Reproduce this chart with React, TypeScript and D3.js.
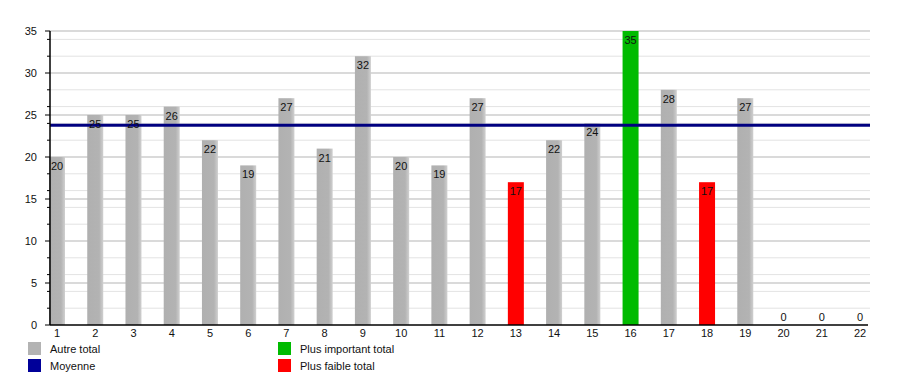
import React from "react";
import * as d3 from "d3";

const categories = ["1","2","3","4","5","6","7","8","9","10","11","12","13","14","15","16","17","18","19","20","21","22"];
const totals = [20,25,25,26,22,19,27,21,32,20,19,27,17,22,24,35,28,17,27,0,0,0];
const majorTicks = [0,5,10,15,20,25,30,35];
const minorTicks = [2,4,6,8,12,14,16,18,22,24,26,28,32,34];
const legendItems = [
  { label: "Autre total", color: "#b3b3b3" },
  { label: "Moyenne", color: "#000099" },
  { label: "Plus important total", color: "#00bb00" },
  { label: "Plus faible total", color: "#ff0000" },
];

const W = 900;
const H = 375;
const left = 50;
const right = 870;
const top = 31;
const bottom = 325;
const barW = 16;

export default function App() {
  const x = d3.scalePoint<string>().domain(categories).range([57, 860]);
  const y = d3.scaleLinear().domain([0, 35]).range([bottom, top]);

  const nonZero = totals.filter((v) => v > 0);
  const avg = d3.mean(nonZero) ?? 0;
  const maxV = d3.max(totals) ?? 0;
  const minV = d3.min(nonZero) ?? 0;

  const colorFor = (v: number) =>
    v === maxV ? legendItems[2].color : v === minV ? legendItems[3].color : legendItems[0].color;

  const font = "'Liberation Sans', Arial, sans-serif";

  return (
    <svg width={W} height={H} style={{ position: "absolute", left: 0, top: 0, fontFamily: font }}>
      <defs>
        <linearGradient id="grayBar" x1="0" x2="1" y1="0" y2="0">
          <stop offset="0" stopColor="#b0b0b0" />
          <stop offset="0.75" stopColor="#b3b3b3" />
          <stop offset="1" stopColor="#d0d0d0" />
        </linearGradient>
      </defs>
      <rect width={W} height={H} fill="#fff" />

      {minorTicks.map((t) => (
        <line key={"mg" + t} x1={left} x2={right} y1={y(t)} y2={y(t)} stroke="#e3e3e3" strokeWidth={1} />
      ))}
      {majorTicks.filter((t) => t > 0).map((t) => (
        <line key={"Mg" + t} x1={left} x2={right} y1={y(t)} y2={y(t)} stroke="#b5b5b5" strokeWidth={1} />
      ))}

      {totals.map((v, i) => {
        const cx = x(categories[i]) ?? 0;
        const c = colorFor(v);
        return (
          <rect
            key={"b" + i}
            x={cx - barW / 2}
            y={y(v)}
            width={barW}
            height={bottom - y(v)}
            fill={c === legendItems[0].color ? "url(#grayBar)" : c}
          />
        );
      })}

      <line x1={left} x2={right} y1={y(avg) + 0.5} y2={y(avg) + 0.5} stroke="#000080" strokeWidth={3} />

      {totals.map((v, i) => {
        const cx = x(categories[i]) ?? 0;
        return (
          <text
            key={"l" + i}
            x={cx}
            y={v > 0 ? y(v) + 13 : y(0) - 4}
            textAnchor="middle"
            fontSize={11}
            fill="#111"
          >
            {v}
          </text>
        );
      })}

      <line x1={left} x2={left} y1={top} y2={bottom} stroke="#000" strokeWidth={1.5} />
      <line x1={left} x2={868} y1={bottom} y2={bottom} stroke="#000" strokeWidth={1.5} />
      {majorTicks.map((t) => (
        <g key={"yt" + t}>
          <line x1={left - 5} x2={left} y1={y(t)} y2={y(t)} stroke="#000" />
          <text x={37} y={y(t) + 4} textAnchor="end" fontSize={11} fill="#111">
            {t}
          </text>
        </g>
      ))}
      {minorTicks.map((t) => (
        <line key={"ym" + t} x1={left - 3} x2={left} y1={y(t)} y2={y(t)} stroke="#000" />
      ))}
      {categories.map((c) => (
        <text key={"xt" + c} x={x(c)} y={337} textAnchor="middle" fontSize={11} fill="#111">
          {c}
        </text>
      ))}

      {legendItems.map((d, i) => {
        const lx = i < 2 ? 28 : 278;
        const ly = 342 + (i % 2) * 17;
        return (
          <g key={"lg" + i}>
            <rect x={lx} y={ly} width={13} height={13} fill={d.color} />
            <text x={lx + 22} y={ly + 11} fontSize={11} fill="#111">
              {d.label}
            </text>
          </g>
        );
      })}
    </svg>
  );
}
